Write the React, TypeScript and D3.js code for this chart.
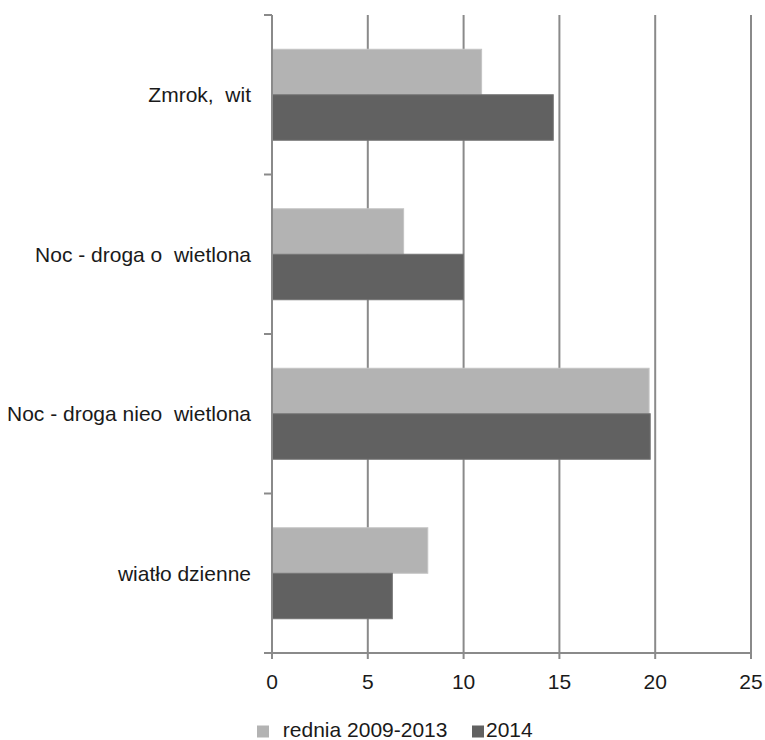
import React from "react";
import * as d3 from "d3";

const categories = ["Zmrok,  wit", "Noc - droga o  wietlona", "Noc - droga nieo  wietlona", "wiatło dzienne"];
const seriesNames = [" rednia 2009-2013", "2014"];
const avg20092013 = [10.94, 6.87, 19.68, 8.13];
const y2014 = [14.68, 9.99, 19.74, 6.28];
const xTicks = [0, 5, 10, 15, 20, 25];
const colors = ["#b3b3b3", "#616161"];

const W = 765;
const H = 740;
const left = 272;
const right = 751;
const top = 15;
const bottom = 653;
const font = "'Liberation Sans', Arial, sans-serif";
const fs = 21;

export default function App() {
  const x = d3.scaleLinear().domain([0, 25]).range([left, right]);
  const y = d3.scaleBand<string>().domain(categories).range([top, bottom]).paddingInner(0).paddingOuter(0);
  const inner = d3.scaleBand<string>().domain(seriesNames).range([0, y.bandwidth()]).paddingOuter(0.753).paddingInner(0);
  const series = [avg20092013, y2014];
  const grid = "#8a8a8a";
  const catTicks = [...categories.map((c) => y(c) as number), bottom];

  return (
    <svg width={W} height={H} style={{ position: "absolute", left: 0, top: 0, background: "#fff" }}>
      {xTicks.map((t) => (
        <line key={"g" + t} x1={x(t)} x2={x(t)} y1={top} y2={bottom + 6} stroke={grid} strokeWidth={2} />
      ))}
      {categories.map((c, i) =>
        series.map((s, j) => (
          <rect
            key={c + j}
            x={x(0)}
            y={(y(c) as number) + (inner(seriesNames[j]) as number)}
            width={x(s[i]) - x(0)}
            height={inner.bandwidth()}
            fill={colors[j]}
            stroke={j === 0 ? "#c4c4c4" : "#747474"}
            strokeWidth={1}
          />
        ))
      )}
      <line x1={left} x2={left} y1={top} y2={bottom + 6} stroke={grid} strokeWidth={2} />
      <line x1={left - 8} x2={right + 1} y1={bottom} y2={bottom} stroke={grid} strokeWidth={2} />
      {catTicks.map((t, i) => (
        <line key={"ct" + i} x1={left - 8} x2={left} y1={t} y2={t} stroke={grid} strokeWidth={2} />
      ))}
      {xTicks.map((t) => (
        <text key={"t" + t} x={x(t)} y={689} textAnchor="middle" fontFamily={font} fontSize={fs} fill="#1a1a1a">
          {t}
        </text>
      ))}
      {categories.map((c) => (
        <text
          key={"l" + c}
          x={251}
          y={(y(c) as number) + y.bandwidth() / 2}
          dy="0.36em"
          textAnchor="end"
          fontFamily={font}
          fontSize={fs}
          fill="#1a1a1a"
          style={{ whiteSpace: "pre" }}
        >
          {c}
        </text>
      ))}
      <g>
        <rect x={257} y={725.5} width={12} height={12} fill={colors[0]} />
        <text x={277} y={737} fontFamily={font} fontSize={fs} fill="#1a1a1a" style={{ whiteSpace: "pre" }}>
          {seriesNames[0]}
        </text>
        <rect x={472} y={725.5} width={12} height={12} fill={colors[1]} />
        <text x={486} y={737} fontFamily={font} fontSize={fs} fill="#1a1a1a">
          {seriesNames[1]}
        </text>
      </g>
    </svg>
  );
}
